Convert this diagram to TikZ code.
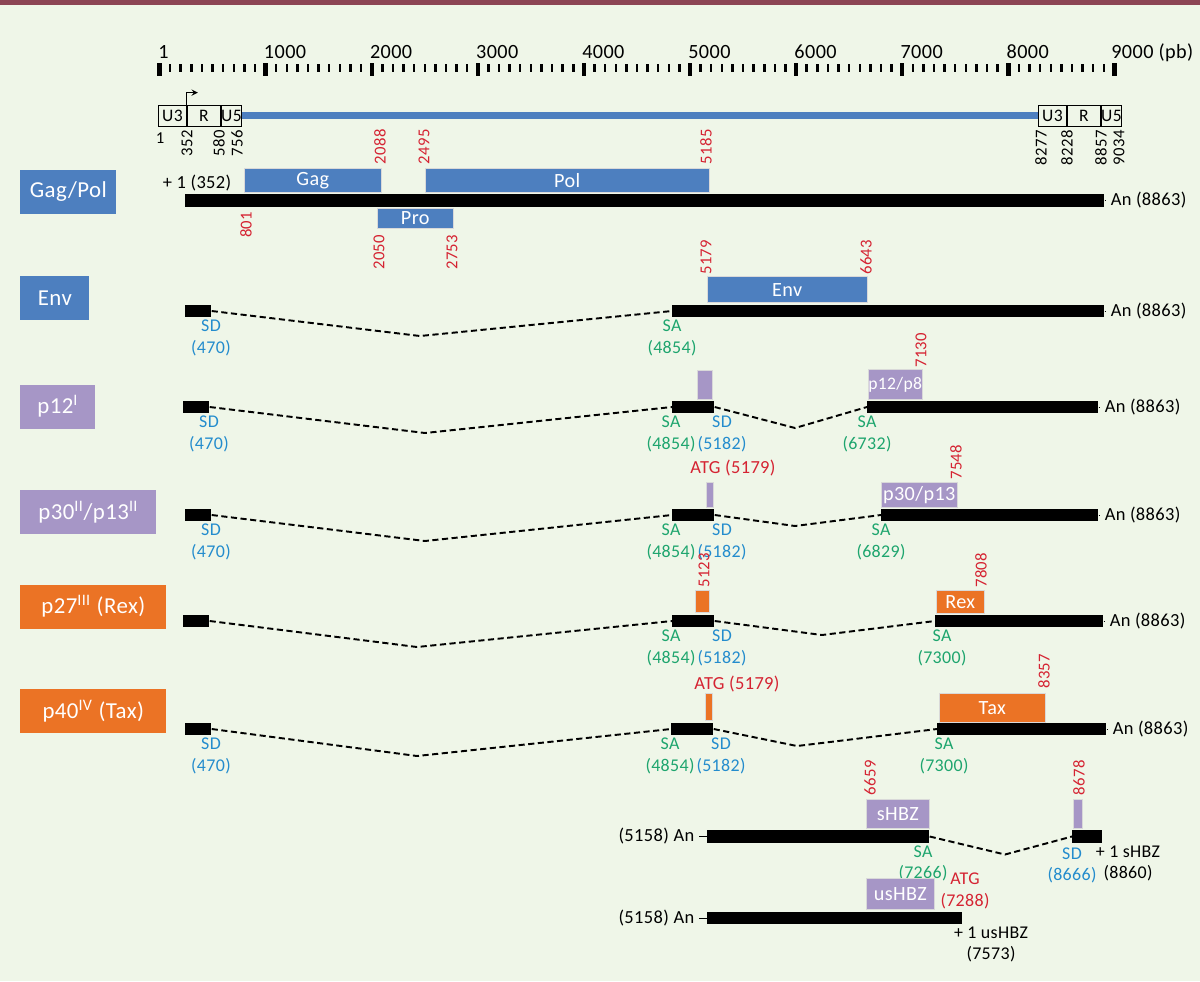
\documentclass[tikz,border=0pt]{standalone}
\usepackage{fontspec}
\setmainfont{Carlito}[LetterSpace=2]
\definecolor{bgGreen}{RGB}{239,246,232}
\definecolor{topBar}{RGB}{140,69,84}
\definecolor{gagBlue}{RGB}{77,127,191}
\definecolor{accPurple}{RGB}{166,150,198}
\definecolor{taxOrange}{RGB}{235,115,37}
\definecolor{numRed}{RGB}{213,35,50}
\definecolor{saGreen}{RGB}{30,165,110}
\definecolor{sdBlue}{RGB}{35,140,205}
\begin{document}
\begin{tikzpicture}[x=0.02cm, y=-0.02cm,
    exon/.style={fill=black, inner sep=0pt, minimum height=0.25cm, anchor=west},
    orf/.style={inner sep=0pt, anchor=south west, text=white, draw=white!70!gray, line width=0.3pt, font=\fontsize{11.5}{12}\selectfont},
    rowlbl/.style={anchor=west, inner sep=0pt, minimum height=0.88cm, text=white, font=\fontsize{13}{14}\selectfont},
    posnum/.style={rotate=90, inner sep=0pt, text=numRed, font=\fontsize{9.5}{10}\selectfont},
    ltrnum/.style={rotate=90, anchor=east, inner sep=0pt, font=\fontsize{9.5}{10}\selectfont},
    ltr/.style={draw, line width=0.5pt, inner sep=0pt, minimum height=0.42cm, anchor=west, font=\fontsize{10}{10}\selectfont},
    splice/.style={dash pattern=on 3.5pt off 2pt, line width=1.1pt},
    sitelbl/.style={anchor=north, inner sep=0pt, align=center, font=\fontsize{10.2}{12}\selectfont},
    anlbl/.style={anchor=west, inner sep=0pt, inner xsep=2.5pt, font=\fontsize{10.5}{11}\selectfont}]

    % Background and top band
    \useasboundingbox (0,0) rectangle (1200,981);
    \fill[bgGreen] (0,0) rectangle (1200,981);
    \fill[topBar] (0,0) rectangle (1200,5);

    % Scale (pb)
    \foreach \k in {0,...,90} {
        \pgfmathtruncatemacro{\major}{mod(\k,10)}
        \ifnum\major=0
            \draw[line width=2.5pt] (159.5+10.61*\k,63) -- (159.5+10.61*\k,76);
        \else
            \draw[line width=1.4pt] (159.5+10.61*\k,64) -- (159.5+10.61*\k,72);
        \fi
    }
    \node[anchor=base west, inner sep=0pt, font=\fontsize{11.5}{12}\selectfont] (scale0) at (158,58) {1};
    \foreach \k/\t in {1/1000,2/2000,3/3000,4/4000,5/5000,6/6000,7/7000,8/8000}
        \node[anchor=base west, inner sep=0pt, font=\fontsize{11.5}{12}\selectfont] (scale\k) at (157.5+106.1*\k,58) {\t};
    \node[anchor=base west, inner sep=0pt, font=\fontsize{11.5}{12}\selectfont] (scale9) at (1111,58) {9000 (pb)};

    % Provirus with LTRs
    \node[ltr, minimum width=0.56cm] (ltrLU3) at (158,115.5) {U3};
    \node[ltr, minimum width=0.66cm] (ltrLR) at (ltrLU3.east) {R};
    \node[ltr, minimum width=0.38cm] (ltrLU5) at (ltrLR.east) {U5};
    \node[ltr, minimum width=0.56cm] (ltrRU3) at (1038,115.5) {U3};
    \node[ltr, minimum width=0.66cm] (ltrRR) at (ltrRU3.east) {R};
    \node[ltr, minimum width=0.38cm] (ltrRU5) at (ltrRR.east) {U5};
    \draw[gagBlue, line width=4.5pt] (ltrLU5.east) -- (ltrRU3.west);
    \draw[-stealth, line width=0.6pt] (ltrLR.north west) -- ++(0,-12) -- ++(11,0);

    \node[inner sep=0pt, font=\fontsize{9.5}{10}\selectfont] (ltr1) at (160,138) {1};
    \node[ltrnum] (ltr352) at (187,130) {352};
    \node[ltrnum] (ltr580) at (219,130) {580};
    \node[ltrnum] (ltr756) at (237,130) {756};
    \node[ltrnum] (ltr8277) at (1041,130) {8277};
    \node[ltrnum] (ltr8228) at (1067,130) {8228};
    \node[ltrnum] (ltr8857) at (1101,130) {8857};
    \node[ltrnum] (ltr9034) at (1119,130) {9034};

    % Gag/Pol
    \begin{scope}[shift={(0,200.5)}]
        \node[rowlbl, fill=gagBlue, minimum width=1.92cm] (gagLbl) at (20,-9) {Gag/Pol};
        \node[exon, minimum width=18.38cm] (gagBar) at (185,0) {};
        \node[orf, fill=gagBlue, minimum width=2.74cm, minimum height=0.48cm] (gagOrf) at (244,-8) {Gag};
        \node[orf, fill=gagBlue, minimum width=5.68cm, minimum height=0.48cm] (polOrf) at (425,-8) {Pol};
        \node[orf, fill=gagBlue, minimum width=1.52cm, minimum height=0.40cm, anchor=north west] (proOrf) at (377,7.5) {Pro};
        \node[anlbl, anchor=east] (gagStart) at (236,-17) {+ 1 (352)};
        \node[anlbl] (gagAn) at (1106,0) {An (8863)};
        \draw (gagBar.east) -- (gagAn.west);

        \node[posnum, anchor=east] (n801) at (246,11) {801};
        \node[posnum, anchor=west] (n2088) at (380,-36) {2088};
        \node[posnum, anchor=west] (n2495) at (424,-36) {2495};
        \node[posnum, anchor=west] (n5185) at (706,-36) {5185};
        \node[posnum, anchor=east] (n2050) at (379,34) {2050};
        \node[posnum, anchor=east] (n2753) at (452,34) {2753};
    \end{scope}

    % Env
    \begin{scope}[shift={(0,311)}]
        \node[rowlbl, fill=gagBlue, minimum width=1.38cm] (envLbl) at (20,-13) {Env};
        \node[exon, minimum width=0.52cm] (envEx1) at (185,0) {};
        \node[exon, minimum width=8.64cm] (envEx2) at (672,0) {};
        \node[orf, fill=gagBlue, minimum width=3.2cm, minimum height=0.52cm] (envOrf) at (707,-8) {Env};
        \node[posnum, anchor=west] (n5179) at (706,-36) {5179};
        \node[posnum, anchor=west] (n6643) at (866,-36) {6643};
        \node[sitelbl, text=sdBlue] (envSD) at (211,9) {SD\\(470)};
        \node[sitelbl, text=saGreen] (envSA) at (672,9) {SA\\(4854)};
        \coordinate (envDip) at (420,25);
        \draw[splice] (envEx1.east) -- (envDip) -- (envEx2.west);
        \node[anlbl] (envAn) at (1106,0) {An (8863)};
        \draw (envEx2.east) -- (envAn.west);
    \end{scope}

    % p12
    \begin{scope}[shift={(0,407)}]
        \node[rowlbl, fill=accPurple, minimum width=1.5cm] (ptwLbl) at (20,-0.5) {p12\textsuperscript{I}};
        \node[exon, minimum width=0.52cm] (ptwEx1) at (183,0) {};
        \node[exon, minimum width=0.84cm] (ptwEx2) at (672,0) {};
        \node[exon, minimum width=4.62cm] (ptwEx3) at (867,0) {};
        \node[orf, fill=accPurple, minimum width=0.30cm, minimum height=0.58cm] (ptwOrfA) at (697,-7) {};
        \node[orf, fill=accPurple, minimum width=1.04cm, minimum height=0.6cm, font=\fontsize{10}{10}\selectfont] (ptwOrfB) at (868,-7) {p12/p8};
        \node[posnum, anchor=west] (n7130) at (921,-39) {7130};
        \node[sitelbl, text=sdBlue] (ptwSD1) at (209,9) {SD\\(470)};
        \node[sitelbl, text=saGreen] (ptwSA1) at (671,9) {SA\\(4854)};
        \node[sitelbl, text=sdBlue] (ptwSD2) at (722,9) {SD\\(5182)};
        \node[sitelbl, text=saGreen] (ptwSA2) at (867,9) {SA\\(6732)};
        \coordinate (ptwDip1) at (425,26);
        \coordinate (ptwDip2) at (795,21);
        \draw[splice] (ptwEx1.east) -- (ptwDip1) -- (ptwEx2.west);
        \draw[splice] (ptwEx2.east) -- (ptwDip2) -- (ptwEx3.west);
        \node[anlbl] (ptwAn) at (1100,0) {An (8863)};
        \draw (ptwEx3.east) -- (ptwAn.west);
    \end{scope}

    % p30/p13
    \begin{scope}[shift={(0,515)}]
        \node[rowlbl, fill=accPurple, minimum width=2.72cm] (pthLbl) at (20,-3) {p30\textsuperscript{II}/p13\textsuperscript{II}};
        \node[exon, minimum width=0.52cm] (pthEx1) at (185,0) {};
        \node[exon, minimum width=0.84cm] (pthEx2) at (672,0) {};
        \node[exon, minimum width=4.34cm] (pthEx3) at (881,0) {};
        \node[orf, fill=accPurple, minimum width=0.14cm, minimum height=0.5cm] (pthOrfA) at (706,-7) {};
        \node[orf, fill=accPurple, minimum width=1.52cm, minimum height=0.5cm] (pthOrfB) at (881,-7) {p30/p13};
        \node[posnum, anchor=west] (n7548) at (956,-35) {7548};
        \node[anlbl, anchor=center, text=numRed] (pthAtg) at (733,-47) {ATG (5179)};
        \node[sitelbl, text=sdBlue] (pthSD1) at (211,9) {SD\\(470)};
        \node[sitelbl, text=saGreen] (pthSA1) at (671,9) {SA\\(4854)};
        \node[sitelbl, text=sdBlue] (pthSD2) at (722,9) {SD\\(5182)};
        \node[sitelbl, text=saGreen] (pthSA2) at (881,9) {SA\\(6829)};
        \coordinate (pthDip1) at (425,26);
        \coordinate (pthDip2) at (795,11);
        \draw[splice] (pthEx1.east) -- (pthDip1) -- (pthEx2.west);
        \draw[splice] (pthEx2.east) -- (pthDip2) -- (pthEx3.west);
        \node[anlbl] (pthAn) at (1100,0) {An (8863)};
        \draw (pthEx3.east) -- (pthAn.west);
    \end{scope}

    % p27 (Rex)
    \begin{scope}[shift={(0,621)}]
        \node[rowlbl, fill=taxOrange, minimum width=2.92cm] (rexLbl) at (20,-14.5) {p27\textsuperscript{III} (Rex)};
        \node[exon, minimum width=0.52cm] (rexEx1) at (183,0) {};
        \node[exon, minimum width=0.84cm] (rexEx2) at (672,0) {};
        \node[exon, minimum width=3.36cm] (rexEx3) at (935,0) {};
        \node[orf, fill=taxOrange, minimum width=0.28cm, minimum height=0.44cm] (rexOrfA) at (695,-8) {};
        \node[orf, fill=taxOrange, minimum width=0.96cm, minimum height=0.46cm] (rexOrfB) at (936,-7) {Rex};
        \node[posnum, anchor=west] (n5123) at (704,-33) {5123};
        \node[posnum, anchor=west] (n7808) at (981,-33) {7808};
        \node[sitelbl, text=saGreen] (rexSA1) at (671,9) {SA\\(4854)};
        \node[sitelbl, text=sdBlue] (rexSD2) at (722,9) {SD\\(5182)};
        \node[sitelbl, text=saGreen] (rexSA2) at (942,9) {SA\\(7300)};
        \coordinate (rexDip1) at (417,26);
        \coordinate (rexDip2) at (822,14);
        \draw[splice] (rexEx1.east) -- (rexDip1) -- (rexEx2.west);
        \draw[splice] (rexEx2.east) -- (rexDip2) -- (rexEx3.west);
        \node[anlbl] (rexAn) at (1105,0) {An (8863)};
        \draw (rexEx3.east) -- (rexAn.west);
    \end{scope}

    % p40 (Tax)
    \begin{scope}[shift={(0,729)}]
        \node[rowlbl, fill=taxOrange, minimum width=2.92cm] (taxLbl) at (20,-18) {p40\textsuperscript{IV} (Tax)};
        \node[exon, minimum width=0.52cm] (taxEx1) at (185,0) {};
        \node[exon, minimum width=0.84cm] (taxEx2) at (671,0) {};
        \node[exon, minimum width=3.38cm] (taxEx3) at (937,0) {};
        \node[orf, fill=taxOrange, minimum width=0.14cm, minimum height=0.54cm] (taxOrfA) at (705,-8) {};
        \node[orf, fill=taxOrange, minimum width=2.12cm, minimum height=0.58cm] (taxOrfB) at (939,-6) {Tax};
        \node[posnum, anchor=west] (n8357) at (1044,-40) {8357};
        \node[anlbl, anchor=center, text=numRed] (taxAtg) at (737,-45) {ATG (5179)};
        \node[sitelbl, text=sdBlue] (taxSD1) at (211,9) {SD\\(470)};
        \node[sitelbl, text=saGreen] (taxSA1) at (670,9) {SA\\(4854)};
        \node[sitelbl, text=sdBlue] (taxSD2) at (721,9) {SD\\(5182)};
        \node[sitelbl, text=saGreen] (taxSA2) at (944,9) {SA\\(7300)};
        \coordinate (taxDip1) at (417,27);
        \coordinate (taxDip2) at (797,17);
        \draw[splice] (taxEx1.east) -- (taxDip1) -- (taxEx2.west);
        \draw[splice] (taxEx2.east) -- (taxDip2) -- (taxEx3.west);
        \node[anlbl] (taxAn) at (1108,0) {An (8863)};
        \draw (taxEx3.east) -- (taxAn.west);
    \end{scope}

    % sHBZ (antisense)
    \begin{scope}[shift={(0,836.5)}]
        \node[exon, minimum width=4.44cm] (shbzEx1) at (707,0) {};
        \node[exon, minimum width=0.6cm] (shbzEx2) at (1072,0) {};
        \node[orf, fill=accPurple, minimum width=1.26cm, minimum height=0.58cm] (shbzOrfA) at (866,-8) {sHBZ};
        \node[orf, fill=accPurple, minimum width=0.18cm, minimum height=0.58cm] (shbzOrfB) at (1073,-8) {};
        \node[posnum, anchor=west] (n6659) at (870,-41) {6659};
        \node[posnum, anchor=west] (n8678) at (1079,-41) {8678};
        \node[sitelbl, text=saGreen] (shbzSA) at (923,9) {SA\\(7266)};
        \node[sitelbl, text=sdBlue] (shbzSD) at (1072,11) {SD\\(8666)};
        \node[sitelbl] (shbzStart) at (1128,9) {+ 1 sHBZ\\(8860)};
        \coordinate (shbzDip) at (1005,18);
        \draw[splice] (shbzEx1.east) -- (shbzDip) -- (shbzEx2.west);
        \node[anlbl, anchor=east] (shbzAn) at (699,0) {(5158) An};
        \draw (shbzAn.east) -- (shbzEx1.west);
    \end{scope}

    % usHBZ (antisense)
    \begin{scope}[shift={(0,918)}]
        \node[exon, minimum width=5.1cm] (ushbzEx) at (707,0) {};
        \node[orf, fill=accPurple, minimum width=1.36cm, minimum height=0.62cm] (ushbzOrf) at (866,-8) {usHBZ};
        \node[sitelbl, text=numRed] (ushbzAtg) at (965,-45) {ATG\\(7288)};
        \node[sitelbl] (ushbzStart) at (991,9) {+ 1 usHBZ\\(7573)};
        \node[anlbl, anchor=east] (ushbzAn) at (699,0) {(5158) An};
        \draw (ushbzAn.east) -- (ushbzEx.west);
    \end{scope}
\end{tikzpicture}
\end{document}
